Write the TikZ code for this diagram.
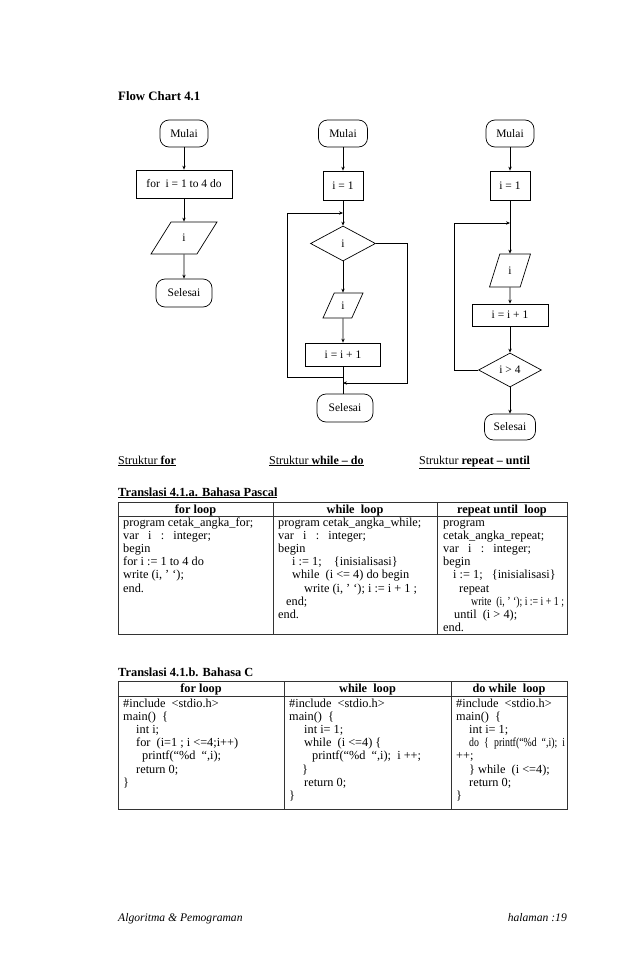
\documentclass[tikz,border=0pt]{standalone}
\usepackage{fontspec}
\setmainfont{Liberation Serif}
\usetikzlibrary{shapes.geometric,arrows.meta}
\newcommand\codelines[4]{%
  \foreach \l [count=\k] in {#4} \node[code] (#1\k) at (#2, #3+13.2*\k-13.2) {\l};}
\newcommand\ind[1]{\hspace*{#1pt}}
\begin{document}
\begin{tikzpicture}[x=1pt,y=-1pt,
  every node/.style={font=\fontsize{11.5}{13}\selectfont},
  fc/.style={draw, line width=0.7pt, inner sep=0pt},
  term/.style={fc, rounded corners=9pt},
  proc/.style={fc},
  io/.style={fc, trapezium, trapezium left angle=#1, trapezium right angle=180-#1, trapezium stretches=true},
  dec/.style={fc, diamond},
  arr/.style={line width=0.7pt, -{Stealth[length=4pt,width=3.4pt]}},
  ln/.style={line width=0.7pt},
  tbl/.style={line width=0.6pt, draw=black!80},
  code/.style={anchor=base west, inner sep=0pt, font=\fontsize{12.3}{13}\selectfont},
  hdr/.style={anchor=base, inner sep=0pt, font=\bfseries\fontsize{12.3}{13}\selectfont},
  lbl/.style={anchor=base west, inner sep=0pt, font=\fontsize{12}{14}\selectfont},
  blbl/.style={lbl, font=\bfseries\fontsize{12.4}{14}\selectfont},
  flbl/.style={lbl, font=\itshape\fontsize{11.6}{13}\selectfont},
]
\useasboundingbox (0,0) rectangle (638,977);

% title
\node[blbl, font=\bfseries\fontsize{12.8}{14}\selectfont] (title) at (118,100) {Flow Chart 4.1};

% ---- chart 1: for
\node[term, minimum width=48, minimum height=27] (m1) at (184,133.5) {Mulai};
\node[proc, minimum width=96, minimum height=28] (f1) at (184,184) {for\ \ i = 1 to 4 do};
\node[io=72, minimum width=66, minimum height=32] (p1) at (184,238) {i};
\node[term, minimum width=56, minimum height=28] (s1) at (184,293) {Selesai};
\draw[arr] (m1) -- (f1);
\draw[arr] (f1) -- (p1);
\draw[arr] (p1) -- (s1);

% ---- chart 2: while-do
\node[term, minimum width=49, minimum height=27] (m2) at (343,133.5) {Mulai};
\node[proc, minimum width=40, minimum height=29] (b2) at (343,185.5) {i = 1};
\node[dec, minimum width=65, minimum height=35] (d2) at (343,243.5) {i};
\node[io=75, minimum width=40, minimum height=25] (p2) at (343,305.5) {i};
\node[proc, minimum width=75, minimum height=23] (u2) at (343,354.5) {i = i + 1};
\node[term, minimum width=56, minimum height=28] (s2) at (345,408) {Selesai};
\coordinate (j2a) at (343,213);
\coordinate (j2b) at (343,377);
\coordinate (j2c) at (343,383);
\draw[arr] (m2) -- (b2);
\draw[arr] (b2) -- (d2);
\draw[arr] (d2) -- (p2);
\draw[arr] (p2) -- (u2);
\draw[ln] (u2.south) -- (u2.south |- s2.north);
\draw[arr] (j2b) -- (287,377) -- (287,213) -- (j2a);
\draw[arr] (d2.east) -- (407,243.5) -- (407,383) -- (j2c);

% ---- chart 3: repeat-until
\node[term, minimum width=48, minimum height=27] (m3) at (510,133.5) {Mulai};
\node[proc, minimum width=40, minimum height=29] (b3) at (510,185.5) {i = 1};
\node[io=78, minimum width=41, minimum height=33] (p3) at (510,270.5) {i};
\node[proc, minimum width=76, minimum height=22] (u3) at (510,315) {i = i + 1};
\node[dec, minimum width=63, minimum height=34] (d3) at (510,370) {i > 4};
\node[term, minimum width=51, minimum height=26] (s3) at (510,427) {Selesai};
\coordinate (j3a) at (510,223);
\draw[arr] (m3) -- (b3);
\draw[arr] (b3) -- (p3);
\draw[arr] (p3) -- (u3);
\draw[arr] (u3) -- (d3);
\draw[arr] (d3) -- (s3);
\draw[arr] (d3.west) -- (454,370) -- (454,223) -- (j3a);

% ---- captions
\node[lbl] (c1) at (118,464) {\underline{Struktur \textbf{for}}};
\node[lbl] (c2) at (269,464) {\underline{Struktur \textbf{while -- do}}};
\node[lbl] (c3) at (419,464) {\underline{Struktur \textbf{repeat -- until}}};

% ---- table 1: Pascal
\node[blbl] (t1) at (118,496) {\underline{Translasi 4.1.a. Bahasa Pascal}};
\draw[tbl] (118,502) rectangle (567,634);
\draw[tbl] (118,516.5) -- (567,516.5);
\draw[tbl] (273,502) -- (273,634);
\draw[tbl] (437,502) -- (437,634);
\node[hdr] (h11) at (195.5,513) {for loop};
\node[hdr] (h12) at (355,513) {while\ \ loop};
\node[hdr] (h13) at (502,513) {repeat until\ \ loop};
\codelines{a}{123}{526}{{program cetak\_angka\_for;},{var\ \ \ i\ \ \ :\ \ \ integer;},{begin},{for i := 1 to 4 do},{write (i, ’ ‘);},{end.}}
\codelines{b}{278}{526}{{program cetak\_angka\_while;},{var\ \ \ i\ \ \ :\ \ \ integer;},{begin},{\ind{14}i := 1;\ \ \ \ \{inisialisasi\}},{\ind{14}while\ \ (i <= 4) do begin},{\ind{26}write (i, ’ ‘); i := i + 1 ;},{\ind{8}end;},{end.}}
\codelines{c}{443}{526}{{program},{cetak\_angka\_repeat;},{var\ \ \ i\ \ \ :\ \ \ integer;},{begin},{\ind{10}i := 1;\ \ \ \{inisialisasi\}},{\ind{16}repeat},{\ind{28}\scalebox{0.8}[1]{write\ \ (i, ’ ‘); i := i + 1 ;}},{\ind{11}until\ \ (i > 4);},{end.}}

% ---- table 2: C
\node[blbl] (t2) at (118,676) {Translasi 4.1.b. Bahasa C};
\draw[tbl] (118,681) rectangle (567,809);
\draw[tbl] (118,696) -- (567,696);
\draw[tbl] (284,681) -- (284,809);
\draw[tbl] (451,681) -- (451,809);
\node[hdr] (h21) at (201,692.5) {for loop};
\node[hdr] (h22) at (367.5,692.5) {while\ \ loop};
\node[hdr] (h23) at (509,692.5) {do while\ \ loop};
\codelines{d}{123}{707}{{\#include\ \ <stdio.h>},{main()\ \ \{},{\ind{13}int i;},{\ind{13}for\ \ (i=1 ; i <=4;i++)},{\ind{19}printf(“\%d\ \ “,i);},{\ind{13}return 0;},{\}}}
\codelines{e}{289}{707}{{\#include\ \ <stdio.h>},{main()\ \ \{},{\ind{15}int i= 1;},{\ind{15}while\ \ (i <=4) \{},{\ind{23}printf(“\%d\ \ “,i);\ \ i ++;},{\ind{13}\}},{\ind{15}return 0;},{\}}}
\codelines{f}{456}{707}{{\#include\ \ <stdio.h>},{main()\ \ \{},{\ind{13}int i= 1;},{\ind{13}\scalebox{0.8}[1]{\hbox to 120pt{do\hfill\{\hfill printf(“\%d\ \ “,i);\hfill i}}},{++;},{\ind{13}\} while\ \ (i <=4);},{\ind{13}return 0;},{\}}}

% ---- footer
\node[flbl] (foot1) at (118,921) {Algoritma \& Pemograman};
\node[flbl, anchor=base east] (foot2) at (567,921) {halaman :19};
\end{tikzpicture}
\end{document}
